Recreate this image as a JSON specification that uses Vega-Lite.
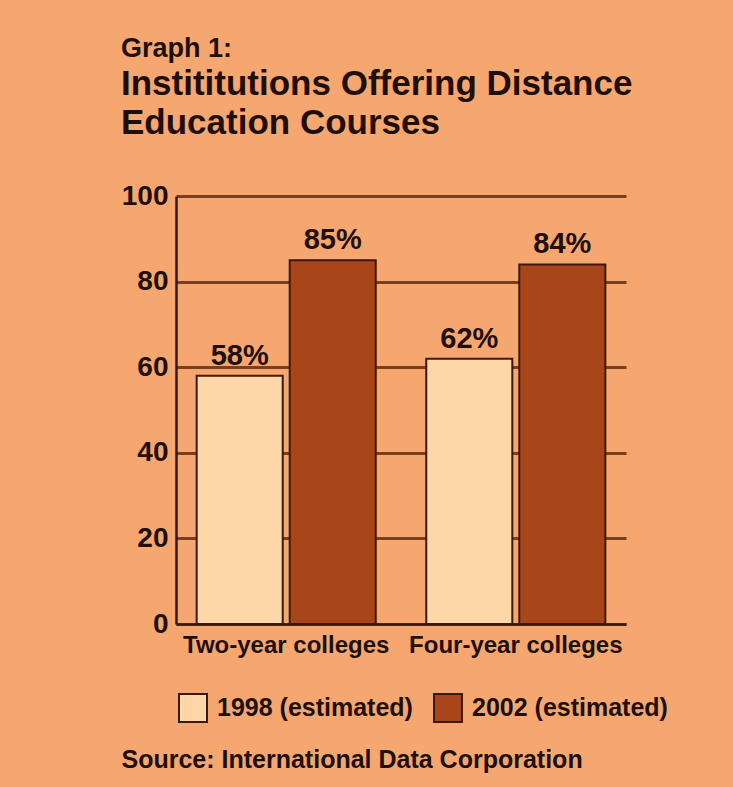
{
  "$schema": "https://vega.github.io/schema/vega-lite/v6.json",
  "autosize": "none",
  "width": 450,
  "height": 428,
  "padding": {"left": 176, "top": 196, "right": 107, "bottom": 163},
  "background": "#F5A76F",
  "title": {
    "text": "Graph 1:",
    "subtitle": ["Instititutions Offering Distance", "Education Courses"],
    "anchor": "start",
    "frame": "bounds",
    "font": "Liberation Sans",
    "fontSize": 27,
    "fontWeight": "bold",
    "color": "#1E0F08",
    "subtitleFont": "Liberation Sans",
    "subtitleFontSize": 35,
    "subtitleFontWeight": "bold",
    "subtitleColor": "#1E0F08",
    "subtitleLineHeight": 39,
    "subtitlePadding": 4,
    "offset": 40
  },
  "data": {
    "values": [
      {"type": "Two-year colleges", "year": "1998 (estimated)", "value": 58, "label": "58%"},
      {"type": "Two-year colleges", "year": "2002 (estimated)", "value": 85, "label": "85%"},
      {"type": "Four-year colleges", "year": "1998 (estimated)", "value": 62, "label": "62%"},
      {"type": "Four-year colleges", "year": "2002 (estimated)", "value": 84, "label": "84%"}
    ]
  },
  "encoding": {
    "x": {
      "field": "type",
      "type": "nominal",
      "sort": ["Two-year colleges", "Four-year colleges"],
      "scale": {"paddingInner": 0.22, "paddingOuter": 0.09},
      "axis": {
        "title": "Source: International Data Corporation",
        "titleAnchor": "start",
        "titleAlign": "left",
        "titleBaseline": "alphabetic",
        "titleX": -55,
        "titleY": 143,
        "titleFont": "Liberation Sans",
        "titleFontSize": 25,
        "titleFontWeight": "bold",
        "titleColor": "#1E0F08",
        "labelAngle": 0,
        "labelFont": "Liberation Sans",
        "labelFontSize": 24,
        "labelFontWeight": "bold",
        "labelColor": "#1E0F08",
        "labelPadding": 9,
        "labelLimit": 0,
        "ticks": false,
        "domainColor": "#3A1A0C",
        "domainWidth": 2.5
      }
    },
    "xOffset": {
      "field": "year",
      "type": "nominal",
      "scale": {"paddingInner": 0.075, "paddingOuter": 0}
    },
    "y": {
      "field": "value",
      "type": "quantitative",
      "scale": {"domain": [0, 100], "nice": false},
      "axis": {
        "title": null,
        "values": [0, 20, 40, 60, 80, 100],
        "labelFont": "Liberation Sans",
        "labelFontSize": 28,
        "labelFontWeight": "bold",
        "labelColor": "#1E0F08",
        "labelPadding": 8,
        "ticks": false,
        "domainColor": "#3A1A0C",
        "domainWidth": 2.5,
        "grid": true,
        "gridColor": "#7B3F1C",
        "gridWidth": 3,
        "gridOpacity": 1
      }
    }
  },
  "layer": [
    {
      "mark": {"type": "bar", "stroke": "#3A1A0C", "strokeWidth": 2},
      "encoding": {
        "color": {
          "field": "year",
          "type": "nominal",
          "scale": {"domain": ["1998 (estimated)", "2002 (estimated)"], "range": ["#FDD7A8", "#A8461A"]},
          "legend": {
            "title": null,
            "orient": "none",
            "direction": "horizontal",
            "legendX": 2,
            "legendY": 497,
            "padding": 0,
            "symbolType": "square",
            "symbolSize": 784,
            "symbolStrokeColor": "#3A1A0C",
            "symbolStrokeWidth": 2,
            "symbolOpacity": 1,
            "labelFont": "Liberation Sans",
            "labelFontSize": 25,
            "labelFontWeight": "bold",
            "labelColor": "#1E0F08",
            "labelOffset": 9,
            "columnPadding": 17,
            "labelLimit": 400
          }
        }
      }
    },
    {
      "mark": {
        "type": "text",
        "font": "Liberation Sans",
        "fontSize": 29,
        "fontWeight": "bold",
        "color": "#1E0F08",
        "baseline": "alphabetic",
        "dy": -11
      },
      "encoding": {
        "text": {"field": "label", "type": "nominal"}
      }
    }
  ],
  "config": {
    "view": {"stroke": null}
  }
}
